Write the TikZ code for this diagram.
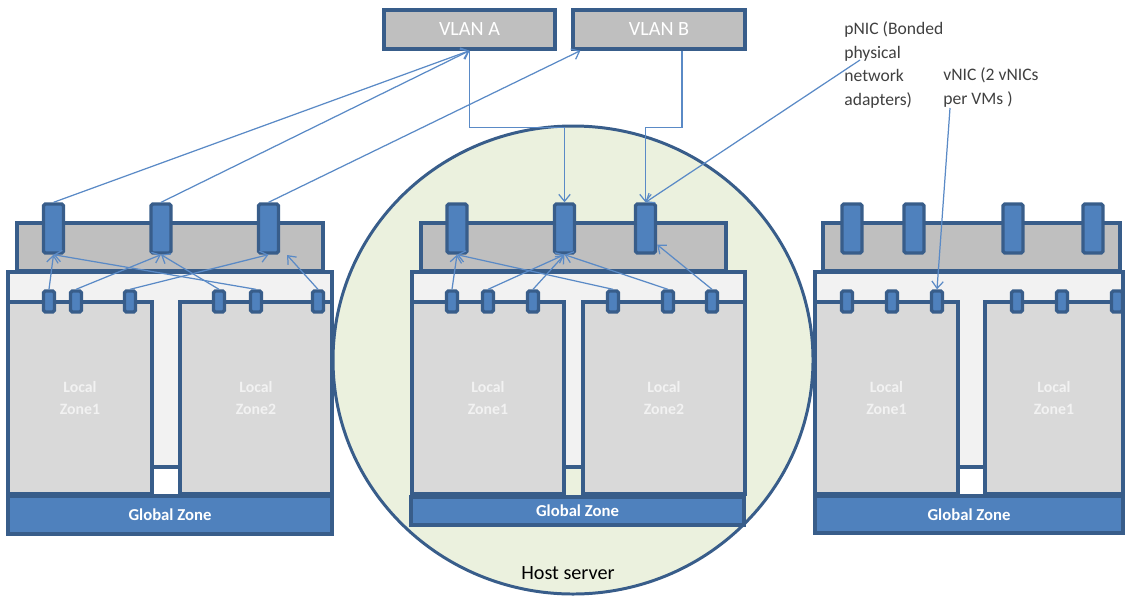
\documentclass[tikz,border=0pt]{standalone}
\usepackage{fontspec}
\setmainfont{Carlito}
\usetikzlibrary{arrows.meta,calc}

\definecolor{zoneline}{HTML}{385D8A}
\definecolor{nicblue}{HTML}{4F81BD}
\definecolor{linkblue}{HTML}{5A8AC6}
\definecolor{boxgray}{HTML}{BFBFBF}
\definecolor{panel}{HTML}{F2F2F2}
\definecolor{zonegray}{HTML}{D9D9D9}
\definecolor{hostfill}{HTML}{EBF1DE}
\definecolor{notetext}{HTML}{404040}

\tikzset{
  box/.style={draw=zoneline, line width=1.9pt},
  vlanbox/.style={box, fill=boxgray, inner sep=0, text=white,
    font=\fontsize{11.5}{12}\selectfont, minimum height=0.78cm},
  pnic/.style={box, fill=nicblue, inner sep=0, minimum width=0.4cm,
    minimum height=0.98cm, rounded corners=1pt},
  vnic/.style={box, fill=nicblue, inner sep=0, minimum width=0.22cm,
    minimum height=0.42cm, rounded corners=1pt},
  lzone/.style={box, fill=zonegray, inner sep=0, text=panel, align=center,
    font=\fontsize{9}{12.5}\selectfont\bfseries, minimum height=3.84cm},
  gzone/.style={box, fill=nicblue, inner sep=0, text=white,
    font=\fontsize{9.5}{11}\selectfont\bfseries},
  link/.style={draw=linkblue, line width=0.7pt,
    -{Straight Barb[length=4pt,width=6.5pt]}},
  note/.style={text=notetext, align=left, inner sep=0, anchor=north west,
    font=\fontsize{10}{13.6}\selectfont}
}

\begin{document}
\begin{tikzpicture}[x=0.02cm,y=-0.02cm]
        \useasboundingbox (0,0) rectangle (1125,599);

        % Host server (middle)
        \draw[draw=zoneline, line width=1.7pt, fill=hostfill] (573,360)
        ellipse [x radius=240, y radius=234];
        \node[font=\fontsize{11.5}{12}\selectfont] (host) at (568,573) {Host server};

        % VLANs
        \node[vlanbox, minimum width=3.42cm] (vlana) at (469.5,29.5) {VLAN A};
        \node[vlanbox, minimum width=3.44cm] (vlanb) at (659,29.5) {VLAN B};
        \coordinate (vbin) at ($(vlanb.south west)+(9,0)$);
        \coordinate (vbout) at ($(vlanb.south)+(23,0)$);

        % First server (left)
        \draw[box, fill=boxgray] (17,223) rectangle (323,271);
        \node[pnic] (lp1) at (53.5,228.5) {}; \node[pnic] (lp2) at
        (161,228.5) {}; \node[pnic] (lp3) at (268.5,228.5) {};
        \draw[box, fill=panel] (8,272) rectangle (332,467);
        \node[lzone, minimum width=2.88cm] (llz1) at (80,398) {Local\\Zone1};
        \node[lzone, minimum width=3.04cm] (llz2) at (256,398) {Local\\Zone2};
        \node[gzone, minimum width=6.48cm, minimum height=0.76cm] (lgz) at
        (170,515) {Global Zone};
        \node[vnic] (lv1) at (49,301.5) {}; \node[vnic] (lv2) at (76,301.5) {};
        \node[vnic] (lv3) at (130,301.5) {}; \node[vnic] (lv4) at (219,301.5) {};
        \node[vnic] (lv5) at (256,301.5) {}; \node[vnic] (lv6) at (318,301.5) {};
        \coordinate (lfree) at (287,255);

        % Second server (middle)
        \draw[box, fill=boxgray] (421,223) rectangle (726,271);
        \node[pnic] (mp1) at (457,228.5) {};
        \node[pnic] (mp2) at (564.5,228.5) {};
        \node[pnic] (mp3) at (645.5,228.5) {};
        \draw[box, fill=panel] (412,272) rectangle (745,467);
        \node[lzone, minimum width=3.04cm] (mlz1) at (488,398) {Local\\Zone1};
        \node[lzone, minimum width=3.24cm] (mlz2) at (664,398) {Local\\Zone2};
        \node[gzone, minimum width=6.66cm, minimum height=0.56cm] (mgz) at
        (577.5,511) {Global Zone};
        \node[vnic] (mv1) at (452,301.5) {};
        \node[vnic] (mv2) at (488,301.5) {};
        \node[vnic] (mv3) at (533,301.5) {};
        \node[vnic] (mv4) at (613,301.5) {};
        \node[vnic] (mv5) at (668,301.5) {};
        \node[vnic] (mv6) at (712,301.5) {};

        % Third server (right)
        \draw[box, fill=boxgray] (823,223) rectangle (1120,271);
        \node[pnic] (rp1) at (852,228.5) {}; \node[pnic] (rp2) at (914,228.5) {};
        \node[pnic] (rp3) at (1013,228.5) {}; \node[pnic] (rp4) at (1093,228.5) {};
        \draw[box, fill=panel] (815,272) rectangle (1123,467);
        \node[lzone, minimum width=2.86cm] (rlz1) at (886.5,398) {Local\\Zone1};
        \node[lzone, minimum width=2.76cm] (rlz2) at (1054,398) {Local\\Zone1};
        \node[gzone, minimum width=6.16cm, minimum height=0.74cm] (rgz) at
        (969,514.5) {Global Zone};
        \node[vnic] (rv1) at (847,301.5) {}; \node[vnic] (rv2) at (892,301.5) {};
        \node[vnic] (rv3) at (937,301.5) {}; \node[vnic] (rv4) at (1017,301.5) {};
        \node[vnic] (rv5) at (1062,301.5) {}; \node[vnic] (rv6) at (1117,301.5) {};

        % Notes
        \node[note] (pnote) at (844,21) {pNIC (Bonded\\physical\\network\\adapters)};
        \node[note] (vnote) at (943,67) {vNIC (2 vNICs\\per VMs )};
        \coordinate (pfrom) at (860,60);
        \coordinate (vfrom) at (950,108);

        % Uplinks
        \draw[link] (lp1.north) -- (vlana.south);
        \draw[link] (lp2.north) -- (vlana.south);
        \draw[link] (lp3.north) -- (vbin);
        \draw[link] (vlana.south) -- ++(0,77) -| (mp2.north);
        \draw[link] (vbout) -- ++(0,77) -| (mp3.north);
        \draw[link] (pfrom) -- (mp3.north);
        \draw[link] (vfrom) -- (rv3.north);

        % vNIC to pNIC
        \draw[link] (lv1.north) -- (lp1.south);
        \draw[link] (lv2.north) -- (lp2.south);
        \draw[link] (lv3.north) -- (lp3.south);
        \draw[link] (lv4.north) -- (lp2.south);
        \draw[link] (lv5.north) -- (lp1.south);
        \draw[link] (lv6.north) -- (lfree);
        \draw[link] (mv1.north) -- (mp1.south);
        \draw[link] (mv2.north) -- (mp2.south);
        \draw[link] (mv3.north) -- (mp2.south);
        \draw[link] (mv4.north) -- (mp1.south);
        \draw[link] (mv5.north) -- (mp2.south);
        \draw[link] (mv6.north) -- ($(mp3.south east)+(0,-10)$);
      \end{tikzpicture}
\end{document}
